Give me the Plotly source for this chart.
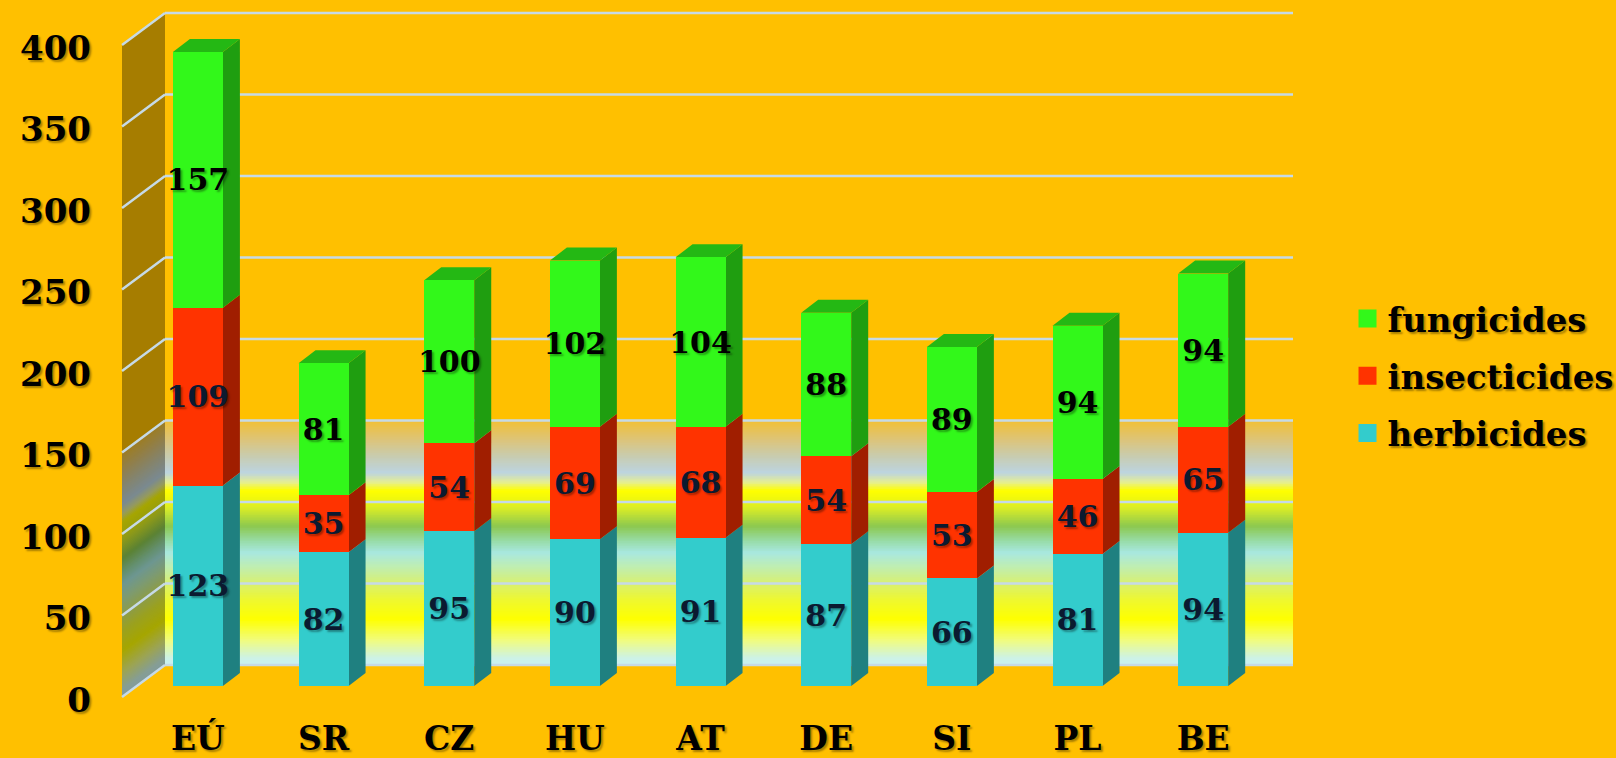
import plotly.graph_objects as go

# ---------------- data ----------------
categories = ["EÚ", "SR", "CZ", "HU", "AT", "DE", "SI", "PL", "BE"]
herbicides = [123, 82, 95, 90, 91, 87, 66, 81, 94]
insecticides = [109, 35, 54, 69, 68, 54, 53, 46, 65]
fungicides = [157, 81, 100, 102, 104, 88, 89, 94, 94]
series_names = ["herbicides", "insecticides", "fungicides"]
y_ticks = [0, 50, 100, 150, 200, 250, 300, 350, 400]

# ---------------- style ----------------
BG = "#FFC000"
FRONT = {"herbicides": "#33CCCC", "insecticides": "#FF3300", "fungicides": "#32F81A"}
SIDE = {"herbicides": "#1F8080", "insecticides": "#A01E00", "fungicides": "#1F9E10"}
TOP = "#24B814"
LABEL = {"herbicides": "#0B1A30", "insecticides": "#0B1A30", "fungicides": "#000000"}
GRID = "#C6DAE6"
FONT = "DejaVu Serif"
SHADOW = "2px 2px 2px rgba(0,0,0,0.35)"

W, H = 1616, 758
L, R, T, B = 100, 1310, 0, 712          # plot area in pixels
X0PX, PXX = 197.9, 125.66               # pixel of category 0 / pixels per category
Y0PX, PXY = 686.0, 1.63                 # pixel of value 0 / pixels per unit
xr = [(L - X0PX) / PXX, (R - X0PX) / PXX]
yr = [(Y0PX - B) / PXY, (Y0PX - T) / PXY]

BAR_W = 50 / PXX
DX, DY = 17 / PXX, 13 / PXY             # bar depth
BACK_X0, BACK_X1 = (165 - X0PX) / PXX, (1293 - X0PX) / PXX
BACK_DY = 21 / PXY                      # back wall lift
FRONT_WALL_X = (122 - X0PX) / PXX
FRONT_WALL_DY = -11 / PXY

# gradient of the back wall (back-wall value -> colour)
stops = [
    (0, "#C8F0F0"), (4, "#CCF2E8"), (15, "#F0FC80"), (28, "#FFFF00"), (40, "#EEF830"),
    (50, "#D8F070"), (60, "#C0EEB0"), (69, "#A8E8E0"), (76, "#98DCA8"), (85, "#8CC850"),
    (96, "#D8EC28"), (101, "#EEF610"), (107, "#FFFF00"), (112, "#E6EE90"), (118, "#BCD4E0"),
    (128, "#C8CCB0"), (138, "#DCC47A"), (150, "#F2C035"),
]


def hex2rgb(h):
    h = h.lstrip("#")
    return [int(h[i:i + 2], 16) for i in (0, 2, 4)]


def grad(v):
    for (a, ca), (b, cb) in zip(stops[:-1], stops[1:]):
        if a <= v <= b:
            t = (v - a) / (b - a)
            p, q = hex2rgb(ca), hex2rgb(cb)
            return [p[k] + (q[k] - p[k]) * t for k in range(3)]
    return hex2rgb(stops[-1][1])


def rgb(c, f=1.0):
    return "rgb(%d,%d,%d)" % tuple(round(x * f) for x in c)


def quad(p):
    return "M%f,%f L%f,%f L%f,%f L%f,%f Z" % tuple(v for pt in p for v in pt)


shapes = []
# left wall, upper plain part
shapes.append(dict(type="path", xref="x", yref="y", layer="below", line=dict(width=0),
                   fillcolor=rgb(hex2rgb(BG), 0.65),
                   path=quad([(FRONT_WALL_X, 149 + FRONT_WALL_DY), (BACK_X0, 149 + BACK_DY),
                              (BACK_X0, 400 + BACK_DY), (FRONT_WALL_X, 400 + FRONT_WALL_DY)])))
step = 1.0
v = 0.0
while v < 150:
    c = grad(v + step / 2)
    a, b = v, min(v + step + 0.6, 150.5)
    shapes.append(dict(type="rect", xref="x", yref="y", layer="below", line=dict(width=0),
                       fillcolor=rgb(c), x0=BACK_X0, x1=BACK_X1, y0=a + BACK_DY, y1=b + BACK_DY))
    shapes.append(dict(type="path", xref="x", yref="y", layer="below", line=dict(width=0),
                       fillcolor=rgb(c, 0.65),
                       path=quad([(FRONT_WALL_X, a + FRONT_WALL_DY), (BACK_X0, a + BACK_DY),
                                  (BACK_X0, b + BACK_DY), (FRONT_WALL_X, b + FRONT_WALL_DY)])))
    v += step

# gridlines on the walls
for t in y_ticks:
    shapes.append(dict(type="line", xref="x", yref="y", layer="below", line=dict(color=GRID, width=2.5),
                       x0=BACK_X0, x1=BACK_X1, y0=t + BACK_DY, y1=t + BACK_DY))
    shapes.append(dict(type="line", xref="x", yref="y", layer="below", line=dict(color=GRID, width=2.5),
                       x0=FRONT_WALL_X, x1=BACK_X0, y0=t + FRONT_WALL_DY, y1=t + BACK_DY))

# 3D sides and tops of the bars, computed from the data
xs = list(range(len(categories)))
series_vals = {"herbicides": herbicides, "insecticides": insecticides, "fungicides": fungicides}
for i in xs:
    base = 0
    xl, xrr = i - BAR_W / 2, i + BAR_W / 2
    for name in series_names:
        top = base + series_vals[name][i]
        shapes.append(dict(type="path", xref="x", yref="y", layer="below", line=dict(width=0),
                           fillcolor=SIDE[name],
                           path=quad([(xrr, base), (xrr + DX, base + DY), (xrr + DX, top + DY), (xrr, top)])))
        base = top
    shapes.append(dict(type="path", xref="x", yref="y", layer="below", line=dict(width=0),
                       fillcolor=TOP,
                       path=quad([(xl, base), (xl + DX, base + DY), (xrr + DX, base + DY), (xrr, base)])))

fig = go.Figure()
for name in series_names:
    fig.add_trace(go.Bar(
        x=xs, y=series_vals[name], width=BAR_W, name=name,
        marker=dict(color=FRONT[name], line=dict(width=0)),
        text=series_vals[name], texttemplate="%{text}", textposition="inside",
        insidetextanchor="middle", textangle=0, constraintext="none",
        textfont=dict(family=FONT, size=30, weight="bold", color=LABEL[name], shadow=SHADOW),
        showlegend=False, hoverinfo="skip"))

for name in reversed(series_names):
    fig.add_trace(go.Scatter(
        x=[None], y=[None], mode="markers", name=name, legendgroup=name, showlegend=True,
        marker=dict(symbol="square", size=20, color=FRONT[name], line=dict(width=2, color=FRONT[name]))))

fig.update_layout(
    width=W, height=H, barmode="stack",
    margin=dict(l=L, r=W - R, t=T, b=H - B, autoexpand=False),
    paper_bgcolor=BG, plot_bgcolor=BG,
    shapes=shapes,
    legend=dict(x=1.031, xanchor="left", y=1 - 290 / B, yanchor="top", traceorder="grouped",
                tracegroupgap=10, bgcolor="rgba(0,0,0,0)",
                font=dict(family=FONT, size=34, weight="bold", color="#000000", shadow=SHADOW)),
    xaxis=dict(range=xr, tickvals=xs, ticktext=categories, showgrid=False, zeroline=False,
               showline=False, ticks="", automargin=False, ticklabelstandoff=4,
               tickfont=dict(family=FONT, size=33, weight="bold", color="#000000", shadow=SHADOW)),
    yaxis=dict(range=yr, tickvals=y_ticks, showgrid=False, zeroline=False, showline=False,
               ticks="", automargin=False, ticklabelshift=14, ticklabelstandoff=8,
               tickfont=dict(family=FONT, size=34, weight="bold", color="#000000", shadow=SHADOW)),
)

fig.write_html("out.html", config={"displayModeBar": False},
               post_script="document.body.style.margin='0';document.body.style.overflow='hidden';")
